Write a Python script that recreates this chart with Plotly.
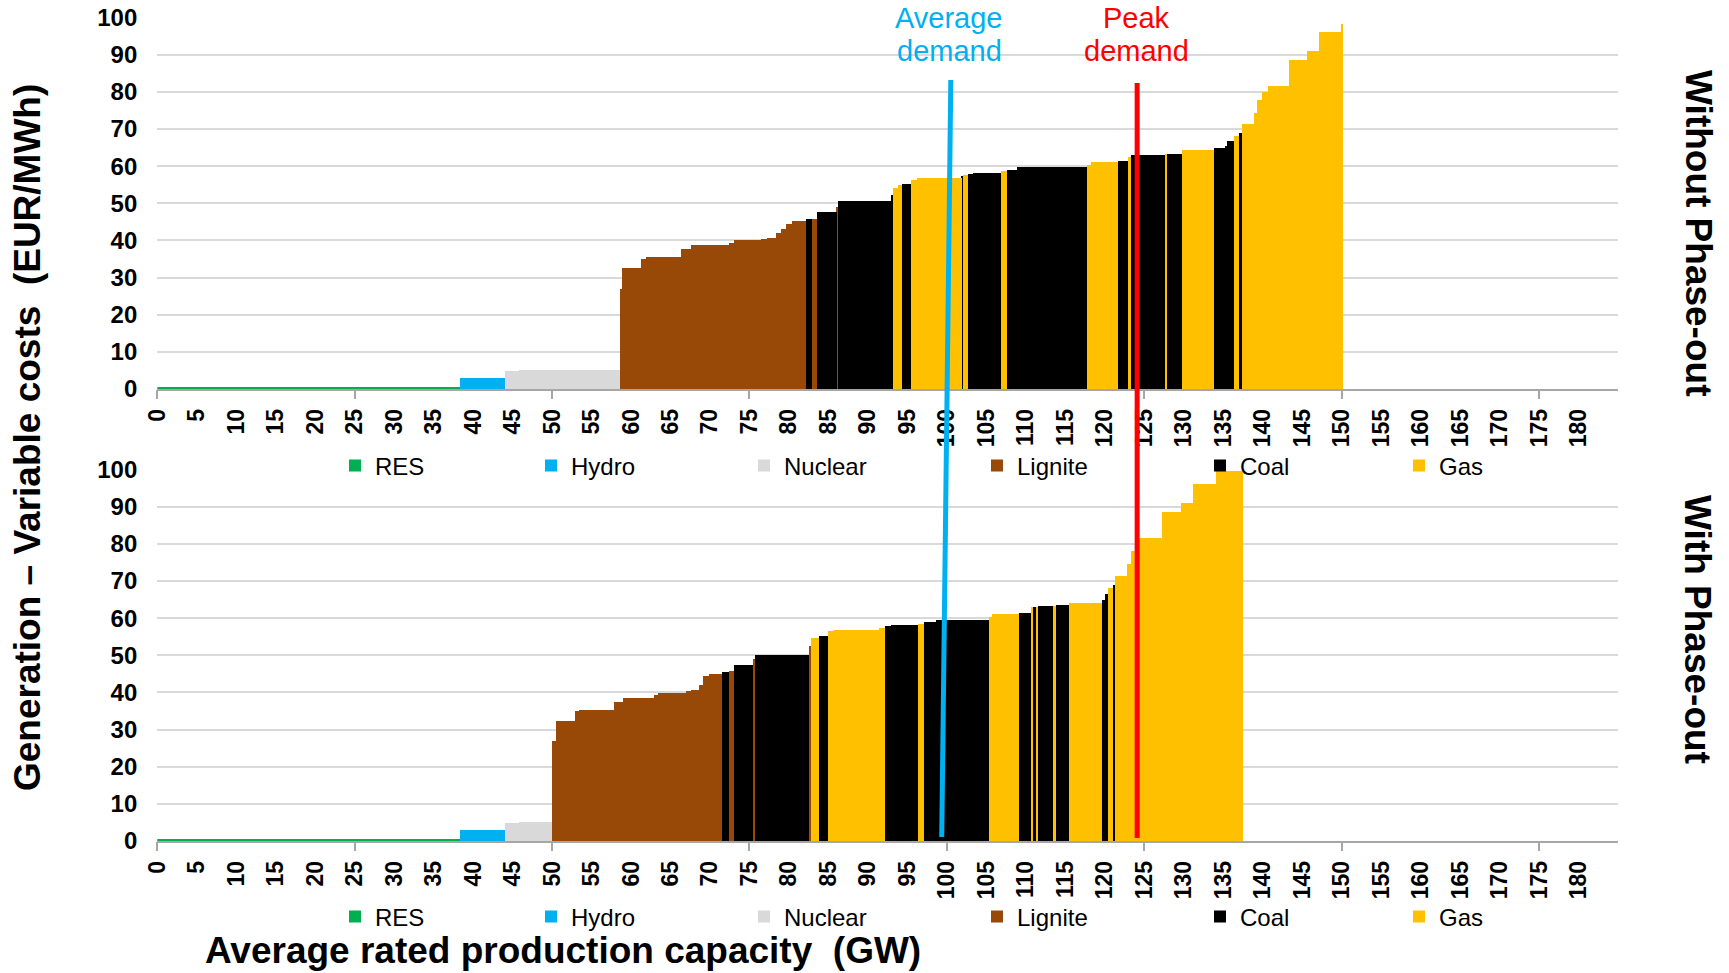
import numpy as np
import plotly.graph_objects as go

# ---------------- data ----------------
tech_order = ["RES", "Hydro", "Nuclear", "Lignite", "Coal", "Gas"]
tech_colors = {"RES": "#00B050", "Hydro": "#00B0F0", "Nuclear": "#D9D9D9",
               "Lignite": "#984807", "Coal": "#000000", "Gas": "#FFC000"}

# Without phase-out: unit type, capacity (GW), variable cost (EUR/MWh)
top_types = ["RES", "Hydro", "Nuclear", "Nuclear",
             "Lignite", "Lignite", "Lignite", "Lignite", "Lignite", "Lignite", "Lignite",
             "Lignite", "Lignite", "Lignite", "Lignite", "Lignite", "Lignite", "Lignite",
             "Coal", "Lignite", "Coal", "Lignite", "Coal", "Coal", "Gas", "Gas", "Coal",
             "Gas", "Gas", "Coal", "Gas", "Coal", "Coal", "Gas", "Coal", "Coal", "Gas",
             "Gas", "Coal", "Gas", "Coal", "Gas", "Coal", "Gas", "Coal", "Coal", "Coal",
             "Gas", "Coal", "Gas", "Gas", "Gas", "Gas", "Gas", "Gas", "Gas", "Gas", "Gas"]
top_capacity = [38.4, 5.7, 1.7, 12.9,
                0.2, 2.4, 0.6, 4.5, 1.2, 4.9, 0.6,
                3.4, 0.8, 1.1, 0.6, 0.7, 0.7, 1.8,
                0.8, 0.6, 2.5, 0.2, 6.7, 0.2, 0.6, 0.5, 1.2,
                0.8, 5.6, 0.2, 0.6, 0.6, 3.6, 0.7, 1.3, 8.9, 0.5,
                3.4, 1.3, 0.4, 4.3, 0.2, 1.9, 4.1, 1.4, 0.2, 0.9,
                0.6, 0.4, 1.5, 0.4, 0.7, 0.7, 2.7, 2.3, 1.5, 2.8, 0.2]
top_cost = [0.7, 3.2, 4.9, 5.3,
            26.9, 32.6, 35.0, 35.7, 37.7, 38.8, 39.5,
            40.1, 40.5, 40.9, 42.2, 43.3, 44.6, 45.4,
            45.8, 46.0, 47.8, 49.0, 50.6, 52.3, 54.1, 55.0, 55.3,
            56.5, 57.0, 57.4, 57.8, 58.0, 58.3, 58.7, 59.0, 59.8, 60.4,
            61.1, 61.5, 62.7, 63.2, 63.3, 63.5, 64.5, 65.0, 65.6, 67.0,
            68.3, 69.0, 71.5, 74.5, 78.0, 80.0, 81.8, 88.6, 91.1, 96.2, 98.5]

# With phase-out
bot_types = ["RES", "Hydro", "Nuclear", "Nuclear",
             "Lignite", "Lignite", "Lignite", "Lignite", "Lignite", "Lignite", "Lignite",
             "Lignite", "Lignite", "Lignite", "Lignite", "Lignite", "Lignite",
             "Coal", "Lignite", "Coal", "Lignite", "Coal", "Lignite", "Gas", "Coal",
             "Gas", "Gas", "Gas", "Coal", "Coal", "Gas", "Coal", "Coal", "Gas", "Gas",
             "Coal", "Gas", "Coal", "Gas", "Coal", "Gas", "Coal", "Gas", "Coal", "Coal",
             "Gas", "Coal", "Gas", "Gas", "Gas", "Gas", "Gas", "Gas", "Gas", "Gas"]
bot_capacity = [38.4, 5.7, 1.7, 4.2,
                0.5, 2.4, 0.5, 4.5, 1.1, 3.9, 0.5,
                3.6, 0.6, 1.0, 0.6, 0.7, 1.7,
                0.9, 0.6, 2.4, 0.2, 6.9, 0.2, 1.0, 1.2,
                0.8, 5.7, 0.7, 0.7, 3.5, 0.7, 1.5, 6.8, 0.4, 3.4,
                1.5, 0.2, 0.5, 0.2, 2.0, 0.2, 1.7, 4.2, 0.4, 0.3,
                0.7, 0.2, 1.6, 0.5, 1.0, 2.9, 2.4, 1.5, 2.9, 3.5]
bot_cost = [0.7, 3.15, 4.85, 5.2,
            27.0, 32.5, 35.0, 35.5, 37.6, 38.7, 39.4,
            40.0, 40.4, 40.8, 42.2, 44.5, 45.2,
            45.6, 46.0, 47.6, 49.0, 50.3, 52.5, 54.8, 55.3,
            56.6, 57.0, 57.4, 58.0, 58.3, 58.6, 59.0, 59.7, 60.4, 61.2,
            61.5, 63.1, 63.1, 63.2, 63.3, 63.4, 63.6, 64.3, 64.9, 66.7,
            68.3, 69.1, 71.4, 74.6, 78.1, 81.8, 88.7, 91.1, 96.2, 99.7]

# demand lines (GW): position at upper end, position at lower end
avg_demand_gw = [100.5, 99.35]
peak_demand_gw = [124.1, 124.1]

x_tick_labels = [str(v) for v in range(0, 185, 5)]
y_tick_vals = list(range(0, 101, 10))

# ---------------- figure ----------------
W, H = 1729, 973
def px_x(p): return p / W
def px_y(p): return 1 - p / H

FONT = "Liberation Sans, Arial, sans-serif"
fig = go.Figure()

legend_widths = {"RES": 151, "Hydro": 168, "Nuclear": 188, "Lignite": 178, "Coal": 154, "Gas": 150}

def add_panel(types, caps, costs, xa, ya, legend):
    caps = np.array(caps, dtype=float)
    costs = np.array(costs, dtype=float)
    ends = np.cumsum(caps)
    centers = ends - caps / 2
    types = np.array(types)
    for t in tech_order:
        m = types == t
        fig.add_trace(go.Bar(
            x=centers[m], y=costs[m], width=caps[m], name=t,
            marker=dict(color=tech_colors[t], line=dict(width=0)),
            xaxis=xa, yaxis=ya, legend=legend, showlegend=True,
            legendwidth=legend_widths[t],
        ))

add_panel(top_types, top_capacity, top_cost, "x", "y", "legend")
add_panel(bot_types, bot_capacity, bot_cost, "x2", "y2", "legend2")

# dummy traces so tick-mark overlay axes are drawn
fig.add_trace(go.Scatter(x=[None], y=[None], xaxis="x3", yaxis="y", showlegend=False, hoverinfo="skip"))
fig.add_trace(go.Scatter(x=[None], y=[None], xaxis="x4", yaxis="y2", showlegend=False, hoverinfo="skip"))

XR = [0, 185.0]
xdom = [px_x(157.3), px_x(1618)]
top_dom = [px_y(389), px_y(17.6)]
bot_dom = [px_y(841), px_y(469.5)]

xcommon = dict(range=XR, domain=xdom, tickmode="array", automargin=False,
               tickvals=list(range(0, 185, 5)), ticktext=x_tick_labels,
               tickangle=-90, ticks="outside", ticklen=9, tickcolor="rgba(0,0,0,0)",
               tickfont=dict(family=FONT, size=23, color="#000000", weight="bold"),
               showgrid=False, zeroline=False, showline=True, linecolor="#A6A6A6",
               linewidth=1.5, fixedrange=True)
ycommon = dict(range=[0, 100], tickvals=y_tick_vals, showgrid=True, automargin=False,
               gridcolor="#D9D9D9", gridwidth=1.5, zeroline=False, showline=False,
               ticks="", ticklabelstandoff=19,
               tickfont=dict(family=FONT, size=24, color="#000000", weight="bold"),
               fixedrange=True)
tickmarks = dict(range=XR, domain=xdom, tickmode="array", tickvals=list(range(0, 185, 25)),
                 ticks="outside", ticklen=9, tickcolor="#A6A6A6", tickwidth=1.5,
                 showticklabels=False, showgrid=False, zeroline=False, showline=False,
                 automargin=False, fixedrange=True)

legend_common = dict(orientation="h", xanchor="left", yanchor="middle",
                     bgcolor="rgba(0,0,0,0)", itemwidth=30, borderwidth=0,
                     font=dict(family=FONT, size=24, color="#000000"), traceorder="normal")

fig.update_layout(
    template="none",
    width=W, height=H, margin=dict(l=0, r=0, t=0, b=0, pad=0, autoexpand=False),
    paper_bgcolor="white", plot_bgcolor="white",
    barmode="overlay", bargap=0,
    xaxis=dict(anchor="y", **xcommon),
    yaxis=dict(anchor="x", domain=top_dom, **ycommon),
    xaxis2=dict(anchor="y2", **xcommon),
    yaxis2=dict(anchor="x2", domain=bot_dom, **ycommon),
    xaxis3=dict(anchor="y", overlaying="x", **tickmarks),
    xaxis4=dict(anchor="y2", overlaying="x2", **tickmarks),
    legend=dict(x=px_x(335), y=px_y(466), **legend_common),
    legend2=dict(x=px_x(335), y=px_y(917), **legend_common),
    showlegend=True,
)

# demand lines spanning both panels
fig.add_shape(type="line", xref="x", yref="paper", x0=avg_demand_gw[0], x1=avg_demand_gw[1],
              y0=px_y(80), y1=px_y(837), line=dict(color="#00B0F0", width=5))
fig.add_shape(type="line", xref="x", yref="paper", x0=peak_demand_gw[0], x1=peak_demand_gw[1],
              y0=px_y(83), y1=px_y(838), line=dict(color="#FF0000", width=5))

def ann(text, x, y, xref="paper", size=29, color="#000000", angle=0, bold=False):
    fig.add_annotation(text=text, x=x, y=y, xref=xref, yref="paper", showarrow=False,
                       xanchor="center", yanchor="middle", textangle=angle,
                       font=dict(family=FONT, size=size, color=color,
                                 weight="bold" if bold else "normal"))

ann("Average", 100.3, px_y(18), xref="x", color="#00B0F0")
ann("demand", 100.3, px_y(51), xref="x", color="#00B0F0")
ann("Peak", 124.0, px_y(18), xref="x", color="#FF0000")
ann("demand", 124.0, px_y(51), xref="x", color="#FF0000")

ann("Generation \u2013 Variable costs  (EUR/MWh)", px_x(27), px_y(438), size=37, angle=-90, bold=True)
ann("Average rated production capacity  (GW)", px_x(563), px_y(950), size=37, bold=True)
ann("Without Phase-out", px_x(1698), px_y(233), size=37, angle=90, bold=True)
ann("With Phase-out", px_x(1698), px_y(629), size=37, angle=90, bold=True)

fig.write_html("out.html", config={"displayModeBar": False},
               post_script="document.body.style.margin='0px';")
